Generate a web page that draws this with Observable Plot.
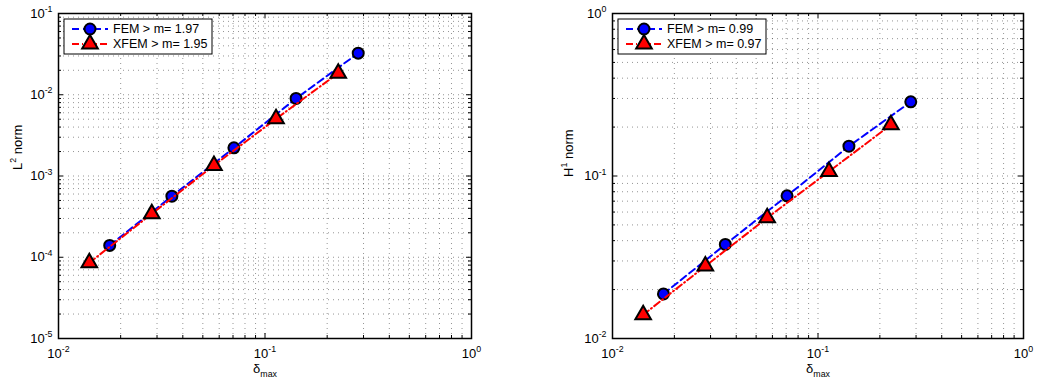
<!DOCTYPE html>
<html><head><meta charset="utf-8">
<script src="https://cdn.jsdelivr.net/npm/d3@7"></script>
<script src="https://cdn.jsdelivr.net/npm/@observablehq/plot@0.6"></script>
<style>
body{margin:0;background:#fff}
#wrap{position:relative;width:1045px;height:387px;background:#fff;overflow:hidden}
#wrap svg{position:absolute;top:0}
</style></head><body><div id="wrap"></div>
<script>
// ---- data ----
const hFEM  = [0.0177, 0.0354, 0.0707, 0.1414, 0.2828];
const hXFEM = [0.0141, 0.0283, 0.0566, 0.1131, 0.2263];
const l2FEM  = [1.40e-4, 5.64e-4, 2.22e-3, 9.0e-3, 0.0325];
const l2XFEM = [8.55e-5, 3.43e-4, 1.35e-3, 5.06e-3, 0.0184];
const h1FEM  = [0.0188, 0.0379, 0.0755, 0.1525, 0.286];
const h1XFEM = [0.0140, 0.0279, 0.0553, 0.1066, 0.2065];
const legendL2 = ["FEM > m= 1.97", "XFEM > m= 1.95"];
const legendH1 = ["FEM > m= 0.99", "XFEM > m= 0.97"];
const xTicks   = [0.01, 0.1, 1];
const yTicksL2 = [1e-5, 1e-4, 1e-3, 1e-2, 1e-1];
const yTicksH1 = [1e-2, 1e-1, 1];
const xLabel   = "δ_{max}";
const yLabelL2 = "L^{2} norm";
const yLabelH1 = "H^{1} norm";

const FONT = "'Liberation Sans', Arial, Helvetica, sans-serif";
const BLUE = "#0000ff", RED = "#ff0000";
const TRI_R = 5.8, DOT_R = 5.5;
const expFmt = d => "10^{" + Math.round(Math.log10(d)) + "}";

function richify(svg) {
  d3.select(svg).selectAll("text").each(function () {
    const t = this.textContent;
    if (!/[\^_]\{/.test(t)) return;
    const re = /([\^_])\{([^}]*)\}|([^\^_]+)/g;
    const parts = []; let m;
    while ((m = re.exec(t))) parts.push(m[3] != null ? {s: m[3], k: 0} : {s: m[2], k: m[1] === "^" ? 1 : -1});
    const el = d3.select(this); el.text(null);
    let shift = 0;
    for (const p of parts) {
      const target = p.k === 1 ? -5.5 : p.k === -1 ? 4.5 : 0;
      const ts = el.append("tspan").text(p.s);
      if (target - shift !== 0) ts.attr("dy", target - shift);
      if (p.k) ts.attr("font-size", "0.68em");
      shift = target;
    }
  });
}

function panel(o) {
  const H = 387, mT = 13, mB = 49;
  const ph = H - mT - mB, pw = o.width - o.mL - o.mR;
  const fem = o.xF.map((x, i) => ({x, y: o.yF[i]}));
  const xfem = o.xX.map((x, i) => ({x, y: o.yX[i]}));
  const gx = d3.scaleLog().domain([0.01, 1]).ticks();
  const gy = d3.scaleLog().domain(o.yDomain).ticks();
  const minorX = gx.filter(v => !xTicks.some(t => Math.abs(t - v) / t < 1e-6));
  const minorY = gy.filter(v => !o.yTicks.some(t => Math.abs(t - v) / t < 1e-6));
  const grid = {stroke: "#333", strokeOpacity: 0.65, strokeWidth: 0.8, strokeDasharray: "1,4"};
  const tk = {stroke: "#000", strokeWidth: 1};
  const svg = Plot.plot({
    width: o.width, height: H,
    marginLeft: o.mL, marginRight: o.mR, marginTop: mT, marginBottom: mB,
    x: {type: "log", domain: [0.01, 1]},
    y: {type: "log", domain: o.yDomain},
    style: {fontFamily: FONT, fontSize: "13px", color: "#000", background: "#fff", overflow: "visible"},
    marks: [
      Plot.ruleX(gx, {x: d => d, ...grid}),
      Plot.ruleY(gy, {y: d => d, ...grid}),
      // inward ticks: major
      Plot.tickX(xTicks, {x: d => d, insetTop: ph - 5, ...tk}),
      Plot.tickX(xTicks, {x: d => d, insetBottom: ph - 5, ...tk}),
      Plot.tickY(o.yTicks, {y: d => d, insetRight: pw - 5, ...tk}),
      Plot.tickY(o.yTicks, {y: d => d, insetLeft: pw - 5, ...tk}),
      // inward ticks: minor
      Plot.tickX(minorX, {x: d => d, insetTop: ph - 3, ...tk}),
      Plot.tickX(minorX, {x: d => d, insetBottom: ph - 3, ...tk}),
      Plot.tickY(minorY, {y: d => d, insetRight: pw - 3, ...tk}),
      Plot.tickY(minorY, {y: d => d, insetLeft: pw - 3, ...tk}),
      Plot.line(fem, {x: "x", y: "y", stroke: BLUE, strokeWidth: 2, strokeDasharray: "7,4"}),
      Plot.dot(fem, {x: "x", y: "y", r: DOT_R, fill: BLUE, stroke: "#000", strokeWidth: 2}),
      Plot.line(xfem, {x: "x", y: "y", stroke: RED, strokeWidth: 2, strokeDasharray: "7,3,1,3"}),
      Plot.dot(xfem, {x: "x", y: "y", symbol: "triangle", r: TRI_R, fill: RED, stroke: "#000", strokeWidth: 2}),
      Plot.frame({stroke: "#000", strokeWidth: 1.5}),
      Plot.axisX({ticks: xTicks, tickSize: 0, tickPadding: 10, tickFormat: expFmt, label: null, fontSize: 13}),
      Plot.axisY({ticks: o.yTicks, tickSize: 0, tickPadding: 6, tickFormat: expFmt, label: null, fontSize: 13}),
      Plot.text([xLabel], {text: d => d, frameAnchor: "bottom", dy: 34, fontSize: 13}),
      Plot.text([o.yLabel], {text: d => d, frameAnchor: "left", rotate: -90, dx: o.ylDx, dy: o.ylDy, fontSize: 13})
    ]
  });
  richify(svg);
  // legend
  const lx = o.mL + 6, ly = 19, lw = 148, lh = 35;
  const g = d3.select(svg).append("g").attr("class", "legend")
    .attr("font-family", FONT).attr("font-size", 12.5).attr("text-anchor", "start");
  g.append("rect").attr("x", lx).attr("y", ly).attr("width", lw).attr("height", lh)
    .attr("fill", "#fff").attr("stroke", "#000").attr("stroke-width", 1);
  const rows = [
    {c: BLUE, dash: "7,4", sym: d3.symbolCircle, size: Math.PI * DOT_R * DOT_R, label: o.legend[0]},
    {c: RED, dash: "7,3,1,3", sym: d3.symbolTriangle, size: Math.PI * TRI_R * TRI_R, label: o.legend[1]}
  ];
  rows.forEach((r, i) => {
    const yy = ly + 10 + i * 15;
    g.append("line").attr("x1", lx + 8).attr("x2", lx + 44).attr("y1", yy).attr("y2", yy)
      .attr("stroke", r.c).attr("stroke-width", 2).attr("stroke-dasharray", r.dash);
    g.append("path").attr("d", d3.symbol(r.sym, r.size)()).attr("transform", `translate(${lx + 26},${yy})`)
      .attr("fill", r.c).attr("stroke", "#000").attr("stroke-width", 2);
    g.append("text").attr("x", lx + 49).attr("y", yy).attr("dy", "0.35em")
      .attr("text-anchor", "start").attr("fill", "#000").text(r.label);
  });
  svg.style.left = o.left + "px";
  return svg;
}

const wrap = document.getElementById("wrap");
wrap.appendChild(panel({left: 0, width: 522, mL: 58, mR: 51, xF: hFEM, yF: l2FEM, xX: hXFEM, yX: l2XFEM,
  yDomain: [1e-5, 1e-1], yTicks: yTicksL2, yLabel: yLabelL2, legend: legendL2, ylDx: -41, ylDy: -6}));
wrap.appendChild(panel({left: 522, width: 523, mL: 90, mR: 22, xF: hFEM, yF: h1FEM, xX: hXFEM, yX: h1XFEM,
  yDomain: [1e-2, 1], yTicks: yTicksH1, yLabel: yLabelH1, legend: legendH1, ylDx: -44, ylDy: 1}));
</script></body></html>
